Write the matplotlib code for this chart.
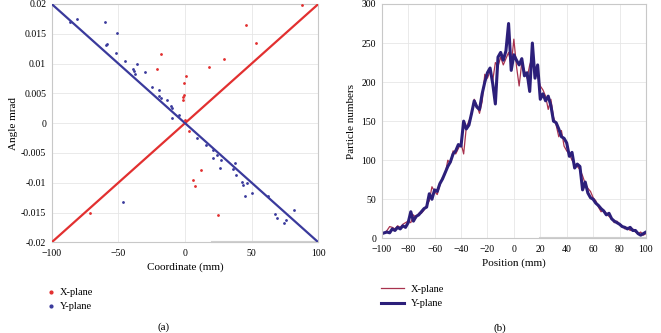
import numpy as np
import matplotlib.pyplot as plt

plt.rcParams['font.family'] = ['Liberation Serif', 'DejaVu Serif']

# (a) emittance-like scatter: dense core along two lines plus a few stray particles
core_x = [-100, -95, -90, -85, -80, -75, -70, -65, -60, -55, -50, -45, -40, -35, -30, -25, -20,
          -15, -10, -5, 0, 5, 10, 15, 20, 25, 30, 35, 40, 45, 50, 55, 60, 65, 70, 75, 80, 85,
          90, 95, 100]
core_xplane = [-0.02, -0.019, -0.018, -0.017, -0.016, -0.015, -0.014, -0.013, -0.012, -0.011,
               -0.01, -0.009, -0.008, -0.007, -0.006, -0.005, -0.004, -0.003, -0.002, -0.001,
               0.0, 0.001, 0.002, 0.003, 0.004, 0.005, 0.006, 0.007, 0.008, 0.009, 0.01, 0.011,
               0.012, 0.013, 0.014, 0.015, 0.016, 0.017, 0.018, 0.019, 0.02]
core_yplane = [0.02, 0.019, 0.018, 0.017, 0.016, 0.015, 0.014, 0.013, 0.012, 0.011, 0.01, 0.009,
               0.008, 0.007, 0.006, 0.005, 0.004, 0.003, 0.002, 0.001, 0.0, -0.001, -0.002,
               -0.003, -0.004, -0.005, -0.006, -0.007, -0.008, -0.009, -0.01, -0.011, -0.012,
               -0.013, -0.014, -0.015, -0.016, -0.017, -0.018, -0.019, -0.02]

stray_x_x = [45.75, 53.25, 29.25, 18, -18.25, -20.75, 0.75, -1, -1, -1.25, -1.75, 0, 2.75,
             11.75, 5.75, 7.5, 24.5, -71.25, 87.5]
stray_x_a = [0.0164, 0.0135, 0.0108, 0.0095, 0.0116, 0.0091, 0.0079, 0.0067, 0.0048, 0.0044,
             0.0039, 0.0006, -0.0013, -0.0079, -0.0096, -0.0105, -0.0154, -0.0150, 0.0199]
stray_y_x = [-86.25, -80.75, -60, -58.5, -59, -51.25, -51.75, -45, -35.75, -39.25, -38, -37.5,
             -30.25, -25, -19.25, -19.75, -18, -13.75, -10.5, -9.5, -10, -4.5, -46.25, 8.75,
             15.5, 21.25, 23.75, 21.25, 27, 26.5, 37.75, 36.25, 38, 42.5, 43.75, 46.25, 50, 45,
             62.5, 67.75, 68.75, 74.25, 75.5, 82]
stray_y_a = [0.0169, 0.0175, 0.0169, 0.0133, 0.0131, 0.0152, 0.0118, 0.0105, 0.0100, 0.0091,
             0.0088, 0.0083, 0.0086, 0.0061, 0.0056, 0.0045, 0.0042, 0.0039, 0.0029, 0.0025,
             0.0008, 0.0014, -0.0132, -0.0025, -0.0036, -0.0045, -0.0054, -0.0058, -0.0062,
             -0.0076, -0.0067, -0.0077, -0.0087, -0.0098, -0.0104, -0.0101, -0.0117, -0.0123,
             -0.0123, -0.0152, -0.0160, -0.0167, -0.0163, -0.0146]

# (b) beam profiles, 2 mm bins
position = list(range(-100, 101, 2))
profile_x = [5, 7, 10, 15, 14, 12, 16, 14, 18, 20, 22, 20, 30, 26, 32, 32, 36, 42, 48, 66,
             60, 56, 68, 78, 82, 100, 96, 112, 108, 115, 122, 108, 142, 150, 158, 178, 170, 160,
             175, 210, 205, 214, 202, 225, 220, 232, 222, 230, 238, 222, 255, 220, 195, 225, 215,
             205, 222, 232, 210, 208, 195, 190, 182, 165, 178, 155, 145, 130, 138, 118, 112, 108,
             100, 95, 92, 88, 80, 70, 64, 60, 52, 48, 40, 34, 36, 32, 28, 26, 20, 22, 18, 16, 12,
             14, 10, 12, 8, 6, 8, 4, 6]
profile_y = [6, 7, 8, 7, 12, 10, 14, 12, 16, 14, 20, 34, 22, 28, 30, 34, 38, 40, 57, 50, 62,
             60, 70, 76, 84, 92, 98, 108, 112, 120, 118, 150, 140, 145, 160, 176, 168, 165, 185,
             200, 212, 218, 198, 172, 232, 238, 228, 240, 275, 215, 235, 228, 222, 230, 208, 212,
             188, 250, 205, 222, 178, 185, 176, 182, 170, 150, 148, 140, 130, 128, 122, 105, 110,
             90, 95, 92, 62, 72, 58, 52, 50, 45, 42, 38, 35, 30, 32, 25, 22, 20, 18, 15, 14, 12,
             14, 10, 10, 6, 4, 6, 8]

grid_c = '#e6e6e6'
spine_c = '#c8c8c8'

fig = plt.figure(figsize=(6.61, 3.33), dpi=100)
ax1 = fig.add_axes([0.0782, 0.2724, 0.4034, 0.7156])
ax2 = fig.add_axes([0.5775, 0.2844, 0.3998, 0.7036])

for ax in (ax1, ax2):
    ax.grid(True, color=grid_c, lw=0.6)
    ax.set_axisbelow(True)
    for s in ax.spines.values():
        s.set_color(spine_c)
        s.set_linewidth(0.8)
    ax.tick_params(length=0, labelsize=7)
    ax.tick_params(axis='x', pad=5)
    ax.tick_params(axis='y', pad=4)

# left panel
red_pt = '#e23030'
blue_pt = '#3a3a9c'
ax1.plot(core_x, core_xplane, '-', color=red_pt, lw=1.6, zorder=3)
ax1.plot(core_x, core_yplane, '-', color=blue_pt, lw=1.6, zorder=3)
ax1.scatter(stray_x_x, stray_x_a, s=1.0, color=red_pt, label='X-plane', zorder=4)
ax1.scatter(stray_y_x, stray_y_a, s=1.0, color=blue_pt, label='Y-plane', zorder=4)
ax1.set_xlim(-100, 100)
ax1.set_ylim(-0.02, 0.02)
ax1.set_xticks([-100, -50, 0, 50, 100])
yt = [0.02, 0.015, 0.01, 0.005, 0, -0.005, -0.01, -0.015, -0.02]
ax1.set_yticks(yt)
ax1.set_yticklabels(['0.02', '0.015', '0.01', '0.005', '0', '-0.005', '-0.01', '-0.015', '-0.02'])
ax1.set_xlabel('Coordinate (mm)', fontsize=8, labelpad=3)
ax1.set_ylabel('Angle mrad', fontsize=8, labelpad=2)
ax1.axhline(-0.02, xmin=0.6, xmax=1, color='#d0d0d0', lw=1.5, clip_on=False)

fig.legend(*ax1.get_legend_handles_labels(), loc='upper left',
           bbox_to_anchor=(38 / 661, 1 - 278 / 333), frameon=False, fontsize=7.5,
           handlelength=0.6, handletextpad=0.6, labelspacing=0.5, markerscale=2.0)

# right panel
ax2.plot(position, profile_x, color='#a8324e', lw=0.9, label='X-plane')
ax2.plot(position, profile_y, color='#2c1f7a', lw=1.1, label='Y-plane')
ax2.set_xlim(-100, 100)
ax2.set_ylim(0, 300)
ax2.set_xticks(range(-100, 101, 20))
ax2.set_yticks(range(0, 301, 50))
ax2.set_xlabel('Position (mm)', fontsize=8, labelpad=3)
ax2.set_ylabel('Particle numbers', fontsize=8, labelpad=4)
ax2.axhline(0, xmin=0.6, xmax=1, color='#d0d0d0', lw=1.5, clip_on=False)

h, l = ax2.get_legend_handles_labels()
h[1].set_linewidth(2.2)
fig.legend(h, l, loc='upper left', bbox_to_anchor=(372 / 661, 1 - 275 / 333), frameon=False,
           fontsize=7.5, handlelength=2.2, handletextpad=0.6, labelspacing=0.5)

fig.text(164 / 661, 1 - 327 / 333, '(a)', ha='center', va='center', fontsize=8)
fig.text(500 / 661, 1 - 328 / 333, '(b)', ha='center', va='center', fontsize=8)

fig.savefig('out.png', dpi=100)
